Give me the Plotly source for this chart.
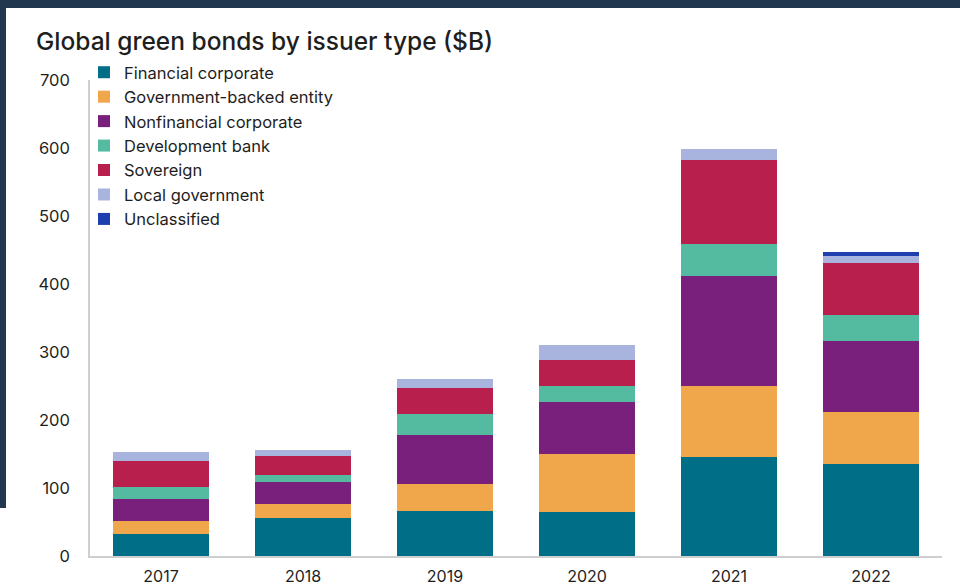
import plotly.graph_objects as go

years = ["2017", "2018", "2019", "2020", "2021", "2022"]
financial_corporate = [32, 56.5, 66.5, 64.5, 145, 135]
government_backed = [19.5, 20, 39, 85, 105.5, 76.5]
nonfinancial_corporate = [32, 32, 72, 77, 162, 104]
development_bank = [18, 11, 32, 23.5, 46, 39]
sovereign = [38.5, 27.5, 37.5, 38, 123.5, 77]
local_government = [13.5, 9, 13.5, 22.5, 16, 10]
unclassified = [0, 0, 0, 0, 0, 6]

series = [
    ("Financial corporate", financial_corporate, "#006E87"),
    ("Government-backed entity", government_backed, "#F0A64B"),
    ("Nonfinancial corporate", nonfinancial_corporate, "#78207C"),
    ("Development bank", development_bank, "#55BBA0"),
    ("Sovereign", sovereign, "#B91F4C"),
    ("Local government", local_government, "#A8B4DE"),
    ("Unclassified", unclassified, "#1E3FAE"),
]

FONT = "Inter"
W, H = 960, 585
L, R, T, B = 90, 18, 80, 29
PW, PH = W - L - R, H - T - B

fig = go.Figure()
for name, vals, col in series:
    fig.add_trace(go.Bar(x=years, y=vals, name=name, marker=dict(color=col, line=dict(width=0))))

def px_x(p):
    return (p - L) / PW

def px_y(p):
    return (H - B - p) / PH

fig.update_layout(
    width=W, height=H,
    margin=dict(l=L, r=R, t=T, b=B, autoexpand=False),
    barmode="stack",
    bargap=0.33,
    paper_bgcolor="white",
    plot_bgcolor="white",
    font=dict(family=FONT, size=17, color="#1e1e1e"),
    title=dict(text="Global green bonds by issuer type ($B)", x=36 / W, xref="container", xanchor="left",
               y=1 - 33 / H, yref="container", yanchor="top",
               font=dict(family=FONT, size=24.5, color="#1e1e1e", weight=500)),
    legend=dict(x=px_x(84), y=px_y(55), xanchor="left", yanchor="top", traceorder="normal",
                bgcolor="rgba(0,0,0,0)", font=dict(family=FONT, size=16.5, color="#1e1e1e")),
    xaxis=dict(showline=True, linecolor="#cfcfcf", linewidth=1.5, showgrid=False, ticks="",
               ticklabelstandoff=5, tickfont=dict(size=16), automargin=False),
    yaxis=dict(range=[0, 700], tickvals=[0, 100, 200, 300, 400, 500, 600, 700],
               showline=True, linecolor="#cfcfcf", linewidth=1.5, showgrid=False, ticks="",
               zeroline=False, ticklabelstandoff=15, tickfont=dict(size=16.5), automargin=False),
    shapes=[
        dict(type="rect", xref="paper", yref="paper", x0=px_x(0), x1=px_x(W), y0=px_y(8), y1=px_y(0),
             fillcolor="#21374f", line=dict(width=0), layer="above"),
        dict(type="rect", xref="paper", yref="paper", x0=px_x(0), x1=px_x(6), y0=px_y(508), y1=px_y(0),
             fillcolor="#21374f", line=dict(width=0), layer="above"),
    ],
)

fig.write_html("out.html")
